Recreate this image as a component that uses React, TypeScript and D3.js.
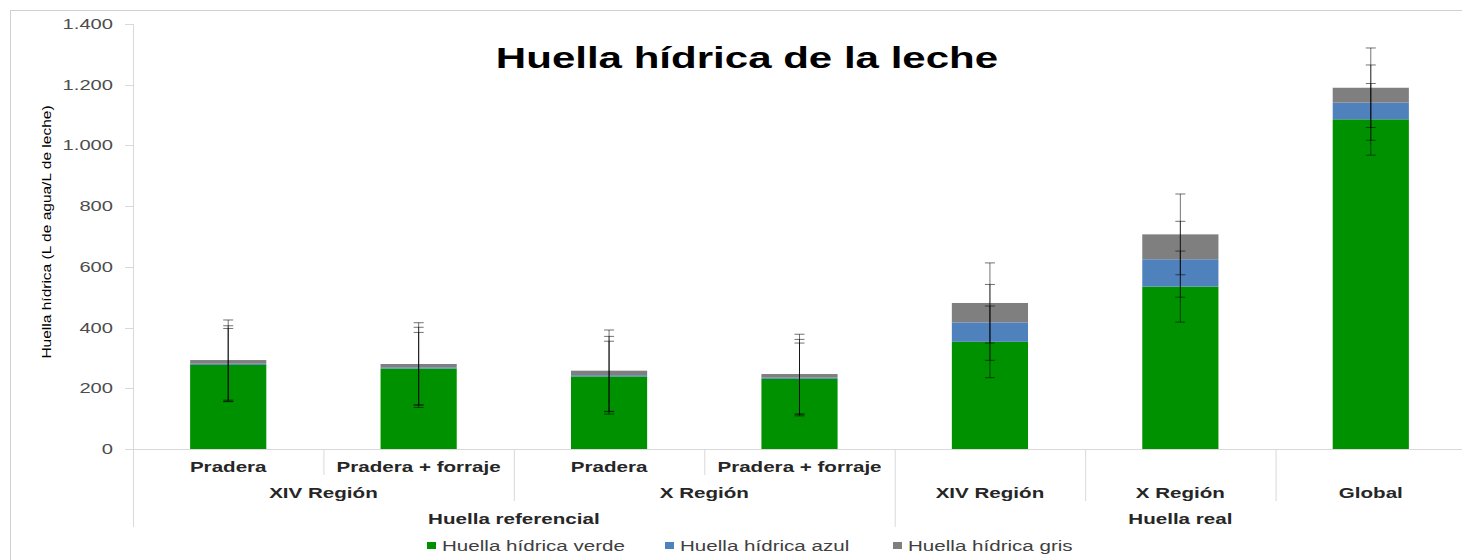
import React from 'react';
import * as d3 from 'd3';

const categories = ['Pradera', 'Pradera + forraje', 'Pradera', 'Pradera + forraje', '', '', ''];
const verde = [277, 265, 239, 231, 353, 535, 1086];
const azul = [4, 4, 4, 4, 64, 90, 55];
const gris = [12, 11, 15, 12, 64, 82, 49];
const errVerde = [120, 119, 116, 118, 118, 117, 118];
const errAzul = [125, 132, 128, 126, 125, 125, 124];
const errGris = [132, 136, 134, 131, 132, 133, 131];

const regionGroups = [
  { label: 'XIV Región', from: 0, to: 2 },
  { label: 'X Región', from: 2, to: 4 },
  { label: 'XIV Región', from: 4, to: 5 },
  { label: 'X Región', from: 5, to: 6 },
  { label: 'Global', from: 6, to: 7 },
];
const huellaGroups = [
  { label: 'Huella referencial', from: 0, to: 4 },
  { label: 'Huella real', from: 4, to: 7 },
];

const yTicks = [0, 200, 400, 600, 800, 1000, 1200, 1400];
const seriesNames = ['Huella hídrica verde', 'Huella hídrica azul', 'Huella hídrica gris'];
const colors = ['#009100', '#4f81bd', '#7f7f7f'];

const W = 1462;
const H = 560;
const left = 133;
const right = 1466;
const top = 24;
const bottom = 449;
const font = 'Liberation Sans, Arial, sans-serif';
const SX = 1.47; // the original picture is stretched sideways

// text drawn with the sideways stretch of the source picture
function SText(props: {
  x: number; y: number; size: number; bold?: boolean; anchor?: string; fill?: string; sx?: number; children: React.ReactNode;
}) {
  const { x, y, size, bold, anchor = 'middle', fill = '#000', sx = SX, children } = props;
  return (
    <text
      transform={`translate(${x},${y}) scale(${sx},1)`}
      textAnchor={anchor}
      fontFamily={font}
      fontSize={size}
      fontWeight={bold ? 'bold' : 'normal'}
      fill={fill}
    >
      {children}
    </text>
  );
}

export default function App() {
  const y = d3.scaleLinear().domain([0, 1400]).range([bottom, top]);
  const idx = d3.range(categories.length);
  const xBar = d3.scaleBand<number>().domain(idx).range([left, right]).paddingInner(0.6).paddingOuter(0.3);
  const xCat = d3.scaleBand<number>().domain(idx).range([left, right]).padding(0);
  const step = xCat.step();
  const edge = (i: number) => left + i * step;

  const series = [verde, azul, gris];
  const errs = [errVerde, errAzul, errGris];
  const stacks = idx.map(i => {
    let acc = 0;
    return series.map(s => {
      const y0 = acc;
      acc += s[i];
      return [y0, acc];
    });
  });

  // how far each divider runs down into the label rows
  const dividerEnd = (i: number) => {
    if (i === 0 || i === 4 || i === 7) return 527;
    if (i === 2 || i === 5 || i === 6) return 501;
    return 475;
  };

  const legendX = [427, 665, 893];

  return (
    <svg width={W} height={H} style={{ position: 'absolute', left: 0, top: 0, background: '#fff' }}>
      <rect x={10.5} y={10.5} width={W} height={H} fill="#fff" stroke="#d0d0d0" />

      <SText x={747} y={68} size={29} bold sx={1.45}>
        Huella hídrica de la leche
      </SText>

      {/* y axis */}
      <line x1={left + 0.5} x2={left + 0.5} y1={top} y2={527} stroke="#d9d9d9" />
      {yTicks.map(t => (
        <g key={t}>
          <line x1={125} x2={left} y1={Math.round(y(t)) + 0.5} y2={Math.round(y(t)) + 0.5} stroke="#d9d9d9" />
          <SText x={113} y={y(t) + 5} size={14} anchor="end" fill="#4d4d4d" sx={1.44}>
            {d3.format(',')(t).replace(/,/g, '.')}
          </SText>
        </g>
      ))}
      <text
        transform={`translate(51, 232) rotate(-90) scale(1.15,1)`}
        textAnchor="middle"
        fontFamily={font}
        fontSize={13.5}
        fill="#000"
      >
        Huella hídrica (L de agua/L de leche)
      </text>

      {/* bars */}
      {idx.map(i =>
        stacks[i].map(([a, b], k) => (
          <rect
            key={`${i}-${k}`}
            x={xBar(i)}
            y={y(b)}
            width={xBar.bandwidth()}
            height={y(a) - y(b)}
            fill={colors[k]}
          />
        ))
      )}

      {/* error bars */}
      {idx.map(i =>
        stacks[i].map(([, b], k) => {
          const cx = (xBar(i) as number) + xBar.bandwidth() / 2;
          const hi = y(b + errs[k][i]);
          const lo = y(b - errs[k][i]);
          return (
            <g key={`e${i}-${k}`} stroke="#000" strokeOpacity={0.55} strokeWidth={1}>
              <line x1={cx} x2={cx} y1={hi} y2={lo} />
              <line x1={cx - 5} x2={cx + 5} y1={hi} y2={hi} />
              <line x1={cx - 5} x2={cx + 5} y1={lo} y2={lo} />
            </g>
          );
        })
      )}

      {/* x axis */}
      <line x1={left} x2={right} y1={bottom + 0.5} y2={bottom + 0.5} stroke="#d9d9d9" />
      {d3.range(1, categories.length + 1).map(i => (
        <line key={`d${i}`} x1={edge(i) + 0.5} x2={edge(i) + 0.5} y1={bottom} y2={dividerEnd(i)} stroke="#d9d9d9" />
      ))}
      {idx.map(i => (
        <SText key={`c${i}`} x={(xCat(i) as number) + step / 2} y={472} size={14} bold fill="#262626">
          {categories[i]}
        </SText>
      ))}
      {regionGroups.map((g, i) => (
        <SText key={`r${i}`} x={(edge(g.from) + edge(g.to)) / 2} y={498} size={14} bold fill="#262626">
          {g.label}
        </SText>
      ))}
      {huellaGroups.map((g, i) => (
        <SText key={`h${i}`} x={(edge(g.from) + edge(g.to)) / 2} y={524} size={14} bold fill="#262626">
          {g.label}
        </SText>
      ))}

      {/* legend */}
      {seriesNames.map((s, k) => (
        <g key={s}>
          <rect x={legendX[k]} y={542} width={9} height={7} fill={colors[k]} />
          <SText x={legendX[k] + 15} y={551} size={14} anchor="start" fill="#404040">
            {s}
          </SText>
        </g>
      ))}
    </svg>
  );
}
